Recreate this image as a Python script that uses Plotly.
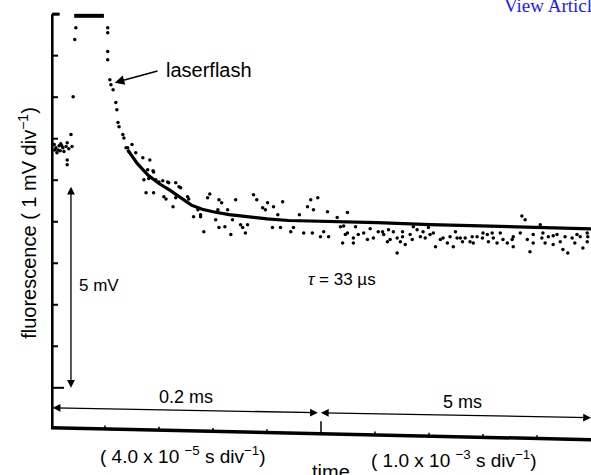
import plotly.graph_objects as go

# ---- data (x in time divisions, y in mV) ----
PRE_X = [0.06, 0.09, 0.13, 0.15, 0.18, 0.22, 0.24, 0.28, 0.11, 0.07, 0.17, 0.20, 0.30, 0.33,
         0.37, 0.39, 0.30, 0.30, 0.41, 0.44, 0.46]
PRE_Y = [5.86, 5.78, 5.73, 5.83, 5.88, 5.78, 5.69, 5.81, 5.66, 5.73, 5.71, 5.83, 5.90, 5.76,
         6.10, 5.81, 5.49, 5.37, 7.01, 8.39, 8.67]

PLATEAU_X = [0.43, 0.98]
PLATEAU_Y = [8.96, 8.96]

DECAY_X = [1.05, 1.05, 1.05, 1.05, 1.09, 1.11, 1.15, 1.20, 1.22, 1.24, 1.26, 1.33, 1.35, 1.42, 1.44,
           1.39, 1.50, 1.57, 1.70, 1.83, 1.89, 1.90, 1.79, 1.72, 1.81, 1.94, 2.00, 2.07, 2.16, 2.18,
           2.31, 2.40, 2.37, 1.90, 1.76, 2.09, 2.13, 2.26, 2.31, 2.53, 2.55, 2.72, 2.64, 2.77, 2.90,
           2.94, 3.11, 3.16, 3.09, 2.77, 2.83, 3.11, 3.22, 3.05, 3.27, 3.42, 3.36, 3.33, 3.51, 3.55,
           3.64, 3.60, 3.75, 3.81, 3.92, 3.97, 4.01, 4.12, 4.20, 4.29, 4.10, 4.25, 4.44, 4.49, 4.60,
           4.68, 4.75, 4.81, 4.94, 4.86, 4.84, 4.99, 5.05, 5.14, 5.12, 5.30, 5.36, 5.40, 5.49,
           5.49, 5.45, 5.60, 5.69, 5.79, 5.86, 5.60, 5.97, 6.06, 6.16, 6.23, 6.28, 6.34, 6.41, 6.51,
           6.47, 6.56, 6.41, 6.65, 6.69, 6.78, 6.84, 6.93, 6.99, 7.02, 7.12, 7.21, 7.26, 7.34, 7.45,
           7.49, 7.52, 7.62, 7.67, 7.76, 7.82, 7.89, 7.99, 8.08, 8.10, 8.19, 8.26, 8.32, 8.37, 8.45,
           8.54, 8.56, 8.69, 8.72, 8.78, 8.82, 8.87, 8.93, 9.06, 9.09, 9.15, 9.21, 9.30, 9.37, 9.43,
           9.48, 9.57, 9.65, 9.70, 9.80, 9.85, 9.93, 9.94,
           5.42, 5.64, 5.91, 6.14, 6.25, 6.51, 6.71, 6.89, 7.08, 7.39, 7.58, 7.80, 8.00, 8.17, 8.56,
           8.93, 9.11, 9.30, 9.52, 9.74, 9.93]
DECAY_Y = [8.67, 8.55, 8.10, 7.90, 7.42, 7.30, 7.18, 6.87, 6.70, 6.39, 6.29, 6.10, 6.02, 5.78, 5.69,
           5.78, 5.86, 5.66, 5.54, 5.49, 5.23, 5.20, 5.25, 5.01, 5.04, 5.01, 4.96, 4.99, 4.96, 4.94,
           4.94, 4.82, 4.84, 4.70, 4.70, 4.60, 4.55, 4.36, 4.58, 4.60, 4.55, 4.29, 4.12, 4.17, 4.58,
           4.67, 4.53, 4.46, 4.29, 4.12, 3.76, 3.86, 3.88, 4.05, 4.29, 4.53, 4.05, 3.69, 3.93, 3.86,
           3.93, 3.73, 4.65, 4.53, 4.34, 4.29, 4.46, 4.36, 4.17, 4.48, 3.86, 3.86, 3.76, 3.86, 4.17,
           3.73, 4.36, 4.53, 4.58, 4.29, 3.73, 3.64, 3.76, 3.64, 4.24, 4.10, 3.88, 3.49, 3.73,
           4.22, 3.69, 3.61, 3.69, 3.73, 3.57, 3.49, 3.61, 3.76, 3.69, 3.52, 3.57, 3.76, 3.61, 3.64,
           3.52, 3.45, 3.25, 3.69, 3.57, 3.81, 3.64, 3.61, 3.86, 3.69, 3.40, 3.57, 3.61, 3.49, 3.40,
           3.76, 3.61, 3.52, 3.61, 3.52, 3.49, 3.64, 3.61, 3.69, 3.52, 3.61, 3.49, 3.73, 3.57, 3.49,
           3.57, 3.40, 3.73, 4.14, 4.05, 3.57, 3.28, 3.49, 3.93, 3.61, 3.49, 3.64, 3.45, 3.69, 3.52,
           3.33, 3.25, 3.61, 3.49, 3.64, 3.37, 3.52, 3.64,
           3.90, 3.88, 3.83, 3.76, 3.81, 3.76, 3.88, 3.76, 3.73, 3.64, 3.61, 3.64, 3.73, 3.73, 3.64,
           3.69, 3.73, 3.66, 3.64, 3.69, 3.73]

FIT_X = [1.42, 1.60, 1.80, 2.00, 2.20, 2.40, 2.60, 2.80, 3.00, 3.30, 3.60, 4.00, 4.40, 5.00,
         5.55, 6.04, 7.02, 8.32, 10.0]
FIT_Y = [5.73, 5.40, 5.12, 4.92, 4.76, 4.58, 4.40, 4.30, 4.24, 4.17, 4.12, 4.07, 4.03, 4.01,
         4.00, 3.98, 3.93, 3.88, 3.83]

Y_TICKS = [0, 1, 2, 3, 4, 5, 6, 7, 8, 9]
X_TICKS = [1, 2, 3, 4, 5, 6, 7, 8, 9]
X_SPLIT = 5

FONT = "Liberation Sans, Arimo, Helvetica, Arial, sans-serif"

fig = go.Figure()
fig.add_trace(go.Scatter(x=PRE_X, y=PRE_Y, mode="markers",
                         marker=dict(color="black", size=3.5), hoverinfo="skip"))
fig.add_trace(go.Scatter(x=PLATEAU_X, y=PLATEAU_Y, mode="lines",
                         line=dict(color="black", width=4), hoverinfo="skip"))
fig.add_trace(go.Scatter(x=DECAY_X, y=DECAY_Y, mode="markers",
                         marker=dict(color="black", size=3.5), hoverinfo="skip"))
fig.add_trace(go.Scatter(x=FIT_X, y=FIT_Y, mode="lines",
                         line=dict(color="black", width=3.2), hoverinfo="skip"))

shapes = []
# left axis
shapes.append(dict(type="line", xref="x", yref="y", x0=0.02, x1=0.02, y0=-0.96, y1=9.0,
                   line=dict(color="black", width=3)))
shapes.append(dict(type="line", xref="x", yref="y", x0=0.02, x1=0.16, y0=9.0, y1=9.0,
                   line=dict(color="black", width=3)))
for t in Y_TICKS:
    shapes.append(dict(type="line", xref="x", yref="y", x0=0.02, x1=0.13 if t else 0.24,
                       y0=t, y1=t, line=dict(color="black", width=2)))
# bottom axis (slightly skewed, like the scan)
B0, B1 = -0.96, -1.25
shapes.append(dict(type="line", xref="x", yref="y", x0=0.0, x1=10.0, y0=B0, y1=B1,
                   line=dict(color="black", width=3.5)))
for t in X_TICKS:
    yb = B0 + (B1 - B0) * t / 10
    shapes.append(dict(type="line", xref="x", yref="y", x0=t, x1=t, y0=yb,
                       y1=yb + (0.3 if t == X_SPLIT else 0.08),
                       line=dict(color="black", width=1.5)))

ann = []
def arrow(x, y, ax, ay, side="end", width=1.3):
    ann.append(dict(x=x, y=y, ax=ax, ay=ay, xref="x", yref="y", axref="x", ayref="y",
                    text="", showarrow=True, arrowhead=2, arrowsize=1.2, arrowwidth=width,
                    arrowside=side, arrowcolor="black"))

def text(x, y, s, size=17, **kw):
    d = dict(x=x, y=y, xref="x", yref="y", text=s, showarrow=False, xanchor="center",
             yanchor="middle", font=dict(family=FONT, size=size, color="black"))
    d.update(kw)
    ann.append(d)

# 5 mV double arrow
arrow(0.37, 0.0, 0.37, 4.88, side="end+start")
# 0.2 ms and 5 ms arrows
arrow(0.03, -0.48, 4.97, -0.60, side="end+start")
arrow(10.0, -0.72, 4.97, -0.60, side="end+start")
# laserflash pointer
arrow(1.18, 7.35, 2.0, 7.64, width=1.6)

text(2.93, 7.66, "laserflash", size=20)
text(5.38, 2.60, "<i>τ</i> = 33 µs", size=17)
text(0.88, 2.47, "5 mV", size=17)
text(2.50, -0.22, "0.2 ms", size=18)
text(7.62, -0.34, "5 ms", size=18)
text(2.44, -1.61, "( 4.0 x 10 <sup>−5</sup> s div<sup>−1</sup>)", size=19)
text(7.47, -1.71, "( 1.0 x 10 <sup>−3</sup> s div<sup>−1</sup>)", size=19)
text(5.18, -2.02, "time", size=20)
ann.append(dict(x=-0.044, y=3.98, xref="paper", yref="y", xanchor="center", yanchor="middle",
                text="fluorescence ( 1 mV div<sup>−1</sup>)",
                textangle=-90, showarrow=False, font=dict(family=FONT, size=20, color="black")))
ann.append(dict(x=0.835, y=1.01, xref="paper", yref="paper", xanchor="left", yanchor="middle",
                text="View Article", showarrow=False,
                font=dict(family="Liberation Serif, Times New Roman, serif", size=19, color="#1a1aff")))

fig.update_layout(
    width=591, height=475,
    margin=dict(l=51, r=0, t=10, b=0),
    plot_bgcolor="white", paper_bgcolor="white",
    showlegend=False,
    xaxis=dict(range=[0, 10], visible=False),
    yaxis=dict(range=[-2.1, 9.1], visible=False),
    shapes=shapes, annotations=ann,
)
fig.write_html("out.html")
